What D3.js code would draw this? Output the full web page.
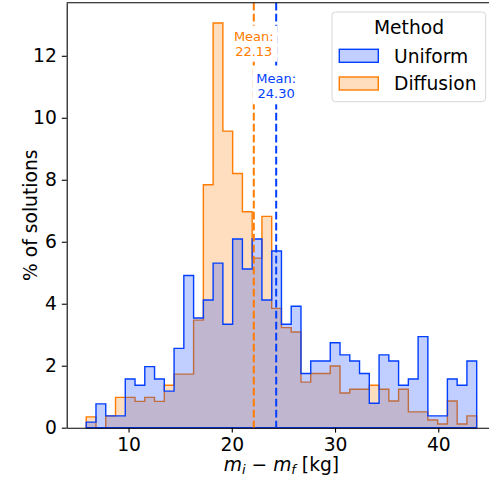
<!DOCTYPE html>
<html>
<head>
<meta charset="utf-8">
<script src="https://cdn.jsdelivr.net/npm/d3@7"></script>
<style>
  body { margin: 0; background: #fff; }
  svg { display: block; font-family: "DejaVu Sans", sans-serif; }
</style>
</head>
<body>
<div id="wrapper"></div>
<script>
width = 489
height = 478

// histogram: 40 equal bins between binLo and binHi, values in % of solutions
const binLo = 5.90
const binHi = 43.72
const uniformPct = [0.18, 0.77, 0.38, 0.38, 1.57, 1.37, 1.97, 1.57, 1.18, 2.56,
    4.91, 3.54, 4.12, 5.31, 3.34, 6.09, 5.12, 6.09, 4.12, 5.70,
    3.34, 3.92, 1.75, 2.15, 2.15, 2.74, 2.35, 2.15, 1.75, 0.79,
    2.35, 2.15, 1.37, 1.57, 2.94, 0.38, 0.38, 1.57, 1.37, 2.15]
const diffusionPct = [0.35, 0, 0.38, 0.98, 0.98, 0.85, 0.98, 0.85, 1.37, 1.73,
    1.73, 3.47, 7.84, 13.06, 9.57, 8.20, 6.97, 5.47, 6.82, 3.85,
    3.23, 3.09, 1.47, 1.75, 1.75, 1.99, 1.12, 1.24, 1.24, 1.37,
    1.24, 0.86, 1.24, 0.51, 0.51, 0.25, 0.12, 0.86, 0.12, 0.38]
const methods = ["Uniform", "Diffusion"]
const means = [24.30, 22.13]
const colors = ["#023eff", "#ff7c00"]
const xTicks = [10, 20, 30, 40]
const yTicks = [0, 2, 4, 6, 8, 10, 12]

const series = [uniformPct, diffusionPct]
const nBins = uniformPct.length
const binW = (binHi - binLo) / nBins
const edges = d3.range(nBins + 1).map(i => binLo + i * binW)

const svg = d3.select("#wrapper").append("svg")
    .attr("width", width)
    .attr("height", height)

const plot = { left: 66.7, right: 496.2, top: 2.7, bottom: 427.7 }

// matplotlib style 5% margins
const pad = (binHi - binLo) * 0.05
x = d3.scaleLinear()
    .domain([binLo - pad, binHi + pad])
    .range([plot.left, plot.right])

const yMax = d3.max(series.flat()) * 1.05
y = d3.scaleLinear()
    .domain([0, yMax])
    .range([plot.bottom, plot.top])

const stepArea = d3.area()
    .curve(d3.curveStepAfter)
    .x(d => x(d[0]))
    .y0(y(0))
    .y1(d => y(d[1]))

// draw Diffusion first, Uniform on top
const order = [1, 0]
order.forEach(k => {
    const vals = series[k]
    const pts = edges.map((e, i) => [e, vals[Math.min(i, nBins - 1)]])
    svg.append("path")
        .attr("d", stepArea(pts))
        .attr("fill", colors[k])
        .attr("fill-opacity", 0.25)
        .attr("stroke", colors[k])
        .attr("stroke-width", 1.4)
        .attr("stroke-linejoin", "miter")
})

// mean lines
means.forEach((m, k) => {
    svg.append("line")
        .attr("x1", x(m)).attr("x2", x(m))
        .attr("y1", plot.top).attr("y2", plot.bottom)
        .attr("stroke", colors[k])
        .attr("stroke-width", 2)
        .attr("stroke-dasharray", "7.7,3.3")
})

// mean labels with white boxes
const labelY = [83.3, 40.7]
means.forEach((m, k) => {
    const g = svg.append("g")
    const t = g.append("text")
        .attr("text-anchor", "middle")
        .attr("font-size", 13)
        .attr("fill", colors[k])
    t.append("tspan").attr("x", x(m)).attr("y", labelY[k]).text("Mean:")
    t.append("tspan").attr("x", x(m)).attr("y", labelY[k] + 15).text(m.toFixed(2))
    const bb = t.node().getBBox()
    g.insert("rect", "text")
        .attr("x", bb.x - 3.5).attr("y", bb.y - 3)
        .attr("width", bb.width + 7).attr("height", bb.height + 6)
        .attr("fill", "#fff")
})

// axes
const xAxis = d3.axisBottom(x).tickValues(xTicks).tickSizeInner(4.9).tickSizeOuter(0).tickPadding(4.9)
const yAxis = d3.axisLeft(y).tickValues(yTicks).tickSizeInner(4.9).tickSizeOuter(0).tickPadding(4.9)

svg.append("g")
    .attr("transform", `translate(0,${plot.bottom})`)
    .call(xAxis)
    .call(g => g.selectAll("text").attr("font-size", 18.7).attr("font-family", "DejaVu Sans").attr("fill", "#000"))
    .call(g => g.selectAll("line, path").attr("stroke", "#000").attr("stroke-width", 1.1))

svg.append("g")
    .attr("transform", `translate(${plot.left},0)`)
    .call(yAxis)
    .call(g => g.selectAll("text").attr("font-size", 18.7).attr("font-family", "DejaVu Sans").attr("fill", "#000"))
    .call(g => g.selectAll("line, path").attr("stroke", "#000").attr("stroke-width", 1.1))

// top spine
svg.append("line")
    .attr("x1", plot.left).attr("x2", plot.right)
    .attr("y1", plot.top).attr("y2", plot.top)
    .attr("stroke", "#000").attr("stroke-width", 1.1)

// axis labels
const xl = svg.append("text")
    .attr("x", (plot.left + plot.right) / 2)
    .attr("y", 470.5)
    .attr("text-anchor", "middle")
    .attr("font-size", 18.7)
xl.append("tspan").attr("font-style", "italic").text("m")
xl.append("tspan").attr("font-style", "italic").attr("font-size", 13).attr("dy", 3).text("i")
xl.append("tspan").attr("dy", -3).text(" \u2212 ")
xl.append("tspan").attr("font-style", "italic").text("m")
xl.append("tspan").attr("font-style", "italic").attr("font-size", 13).attr("dy", 3).text("f")
xl.append("tspan").attr("dy", -3).text(" [kg]")

svg.append("text")
    .attr("transform", `translate(37,${(plot.top + plot.bottom) / 2}) rotate(-90)`)
    .attr("text-anchor", "middle")
    .attr("font-size", 18.7)
    .text("% of solutions")

// legend
const legend = svg.append("g")
legend.append("rect")
    .attr("x", 332).attr("y", 12)
    .attr("width", 153.7).attr("height", 89.7)
    .attr("rx", 3.5)
    .attr("fill", "#fff").attr("fill-opacity", 0.8)
    .attr("stroke", "#d6d6d6").attr("stroke-width", 1)
legend.append("text")
    .attr("x", 409).attr("y", 34.3)
    .attr("text-anchor", "middle")
    .attr("font-size", 18.7)
    .text("Method")
methods.forEach((name, k) => {
    const yy = 49.3 + k * 27.7
    legend.append("rect")
        .attr("x", 339.3).attr("y", yy)
        .attr("width", 39).attr("height", 13)
        .attr("fill", colors[k]).attr("fill-opacity", 0.25)
        .attr("stroke", colors[k]).attr("stroke-width", 1.4)
    legend.append("text")
        .attr("x", 394).attr("y", yy + 13.4)
        .attr("font-size", 18.7)
        .text(name)
})
</script>
</body>
</html>
